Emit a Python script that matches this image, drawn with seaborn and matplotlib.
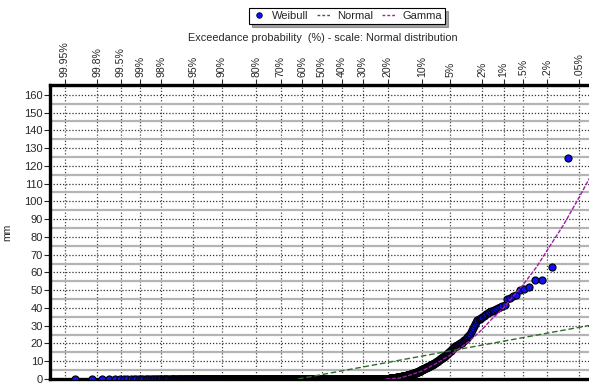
import numpy as np
import pandas as pd
import matplotlib
matplotlib.use("Agg")
import matplotlib.pyplot as plt
from matplotlib.lines import Line2D
from matplotlib.ticker import MultipleLocator, NullLocator, FixedLocator
import seaborn as sns
from statistics import NormalDist

# ---------------- data ----------------
exceed_ticks = [99.95, 99.8, 99.5, 99, 98, 95, 90, 80, 70, 60, 50, 40, 30, 20, 10, 5, 2, 1, 0.5, 0.2, 0.05]
tick_labels = ["99.95%", "99.8%", "99.5%", "99%", "98%", "95%", "90%", "80%", "70%", "60%",
               "50%", "40%", "30%", "20%", "10%", "5%", "2%", "1%", ".5%", ".2%", ".05%"]

n_dry = 1000  # number of zero values in the sample

wet_values = [
    124.5, 63, 55.5, 55.5, 52, 50.5, 50, 47.5, 46.5, 45.5,
    45, 41.5, 41, 40.5, 40, 39.5, 39, 38.5, 38, 37.5,
    37, 36.5, 36, 35.5, 35, 34.5, 34, 33.5, 33, 32,
    31, 30, 28.5, 27.5, 26.5, 25.5, 25, 24, 23.5, 23,
    22.5, 22, 21.8, 21.5, 21, 20.5, 20.2, 20, 19.8, 19.5,
    19.2, 19, 18.8, 18.5, 18.3, 18, 17.8, 17.5, 17.3, 17,
    16.5, 16, 15.5, 15.2, 15, 14.7, 14.4, 14.1, 13.8, 13.5,
    13.2, 13, 12.8, 12.6, 12.4, 12.2, 12, 11.8, 11.6, 11.4,
    11.2, 11, 10.8, 10.5,
    10.3, 10.1, 10, 9.8, 9.6, 9.5, 9.3, 9.2, 9, 8.9,
    8.7, 8.6, 8.4, 8.3, 8.1, 8, 7.9, 7.7, 7.6, 7.5,
    7.3, 7.2, 7.1, 7, 6.9, 6.8, 6.7, 6.6, 6.5, 6.4,
    6.3, 6.2, 6.1, 6, 5.9, 5.8, 5.7, 5.6, 5.5, 5.4, 5.3,
    5.2, 5.1, 5.0, 4.9, 4.8, 4.7, 4.6, 4.5, 4.4, 4.3,
    4.2, 4.1, 4.0, 3.9, 3.8, 3.8, 3.7, 3.6, 3.5, 3.5,
    3.4, 3.3, 3.3, 3.2, 3.1, 3.1, 3.0, 3.0, 2.9, 2.9,
    2.8, 2.8, 2.7, 2.7, 2.6, 2.6, 2.5, 2.5, 2.4, 2.4,
    2.3, 2.3, 2.2, 2.2, 2.1, 2.1, 2.0, 2.0, 2.0, 1.9,
    1.9, 1.9, 1.8, 1.8, 1.8, 1.7, 1.7, 1.7, 1.6, 1.6,
    1.6, 1.5, 1.5, 1.5, 1.5, 1.4, 1.4, 1.4, 1.4, 1.3,
    1.3, 1.3, 1.3, 1.2,
    1.2, 1.2, 1.1, 1.1, 1.1, 1.0, 1.0, 1.0, 1.0, 0.9,
    0.9, 0.9, 0.9, 0.8, 0.8, 0.8, 0.8, 0.7, 0.7, 0.7,
    0.7, 0.6, 0.6, 0.6, 0.6, 0.5, 0.5, 0.5, 0.5, 0.5,
    0.4, 0.4, 0.4, 0.4, 0.4, 0.3, 0.3, 0.3, 0.3, 0.3,
    0.3, 0.2, 0.2, 0.2, 0.2, 0.2, 0.2, 0.1, 0.1, 0.1,
    0.1,
]

normal_exceed = [62, 50, 10, 1, 0.03]
normal_values = [0, 2.5, 12.9, 21.3, 30.2]

gamma_exceed = [20.5, 16, 13, 10, 7, 5, 3, 2, 1.5, 1, 0.7, 0.5, 0.3, 0.2, 0.1, 0.05, 0.03]
gamma_values = [0, 0.5, 2.2, 4.5, 9, 13.5, 21, 28, 33.5, 40, 47, 53, 63, 72, 86.5, 102, 113.5]

# ---------------- tables ----------------
sample = np.sort(np.concatenate([np.zeros(n_dry), np.array(wet_values, float)]))
N = len(sample)
pts = pd.DataFrame({"F": np.arange(1, N + 1) / (N + 1), "mm": sample})
normal_df = pd.DataFrame({"F": 1 - np.array(normal_exceed) / 100, "mm": normal_values})
gamma_df = pd.DataFrame({"F": 1 - np.array(gamma_exceed) / 100, "mm": gamma_values})

# ---------------- normal probability scale ----------------
_nd = NormalDist()
_ppf = np.vectorize(lambda p: _nd.inv_cdf(min(max(p, 1e-12), 1 - 1e-12)) if np.isfinite(p) else np.nan,
                    otypes=[float])
_cdf = np.vectorize(lambda z: _nd.cdf(z) if np.isfinite(z) else np.nan, otypes=[float])


def fwd(F):
    return _ppf(np.asarray(F, float))


def inv(z):
    return _cdf(np.asarray(z, float))


# ---------------- figure ----------------
sns.set_style("white")
plt.rcParams["font.family"] = ["Liberation Sans", "DejaVu Sans"]

W, H = 589, 383
fig = plt.figure(figsize=(W / 100, H / 100), dpi=100)
ax = fig.add_axes([50 / W, 4 / H, (W - 50) / W, (379 - 85) / H])

ax.set_xscale("function", functions=(fwd, inv))
ax.set_xlim(_nd.cdf(-3.48), _nd.cdf(3.42))
ax.set_ylim(0, 165.5)

sns.scatterplot(data=pts, x="F", y="mm", ax=ax, s=26, color="#1010f0",
                edgecolor="black", linewidth=0.8, zorder=3, legend=False, clip_on=True)
sns.lineplot(data=normal_df, x="F", y="mm", ax=ax, sort=False, estimator=None,
             color="#2f6b2f", lw=1.0, linestyle=(0, (4, 2)), zorder=4, legend=False)
sns.lineplot(data=gamma_df, x="F", y="mm", ax=ax, sort=False, estimator=None,
             color="#a0209f", lw=1.0, linestyle=(0, (3, 1)), zorder=4, legend=False)

# x ticks on top
ax.xaxis.set_major_locator(FixedLocator(list(1 - np.array(exceed_ticks) / 100)))
ax.xaxis.set_minor_locator(NullLocator())
ax.set_xticklabels(tick_labels, rotation=90, fontsize=7.6)
ax.xaxis.tick_top()
ax.tick_params(axis="x", which="major", direction="out", length=4, width=0.8, pad=2, top=True, bottom=False)

# y ticks
ax.yaxis.set_major_locator(MultipleLocator(10))
ax.yaxis.set_minor_locator(MultipleLocator(5))
ax.tick_params(axis="y", which="major", direction="out", length=4, width=0.8, labelsize=8, pad=1, left=True)
ax.tick_params(axis="y", which="minor", length=0)

ax.set_xlabel("")
ax.set_ylabel("mm", fontsize=7.5, labelpad=9)

# grid
ax.grid(False)
ax.grid(axis="y", which="minor", color="#b4b4b4", linestyle="-", lw=1.6, zorder=0)
ax.grid(axis="y", which="major", color="#333333", linestyle=(0, (1, 1.5)), lw=0.9, zorder=0)
ax.grid(axis="x", which="major", color="#444444", linestyle=(0, (1, 1.5)), lw=0.9, zorder=0)
ax.set_axisbelow(True)

for side in ["left", "top", "bottom"]:
    ax.spines[side].set_visible(True)
    ax.spines[side].set_color("black")
    ax.spines[side].set_linewidth(2.4)
ax.spines["right"].set_visible(False)

fig.text(323 / W, 1 - 38 / H, "Exceedance probability  (%) - scale: Normal distribution",
         ha="center", va="center", fontsize=7.8)

handles = [
    Line2D([], [], marker="o", linestyle="none", markersize=4, markerfacecolor="#1010f0",
           markeredgecolor="#000040", markeredgewidth=0.6),
    Line2D([], [], color="#2f6b2f", lw=1.0, linestyle=(0, (2, 1.5))),
    Line2D([], [], color="#a0209f", lw=1.0, linestyle=(0, (2, 1.5))),
]
leg = fig.legend(handles, ["Weibull", "Normal", "Gamma"], loc="center", ncol=3,
                 bbox_to_anchor=(347 / W, 1 - 16 / H), fontsize=8, frameon=True,
                 fancybox=False, shadow=True, handlelength=1.2, handletextpad=0.6,
                 columnspacing=0.8, borderpad=0.25, borderaxespad=0)
leg.get_frame().set_edgecolor("black")
leg.get_frame().set_linewidth(0.8)

fig.savefig("out.png", dpi=100)
